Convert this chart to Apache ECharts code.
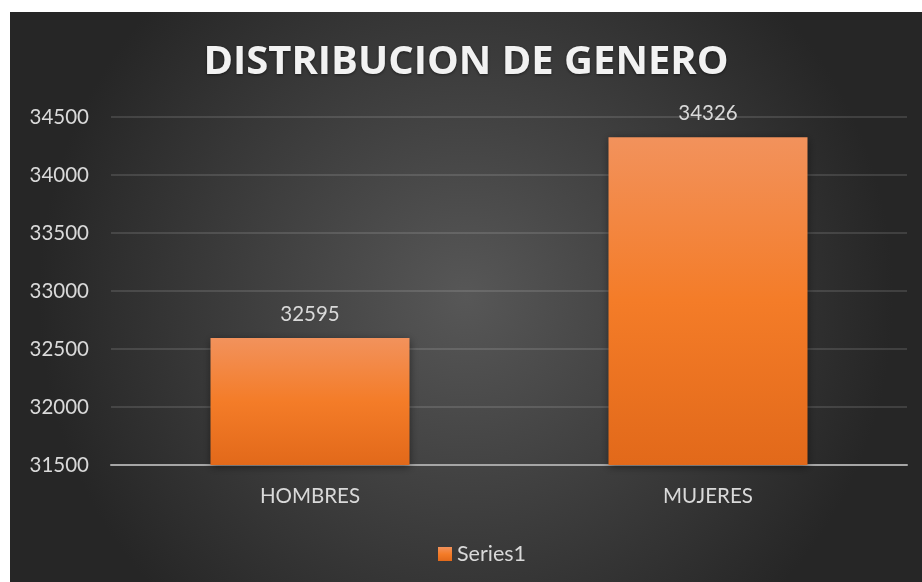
<!DOCTYPE html>
<html>
<head>
<meta charset="utf-8">
<script src="https://cdn.jsdelivr.net/npm/echarts@6/dist/echarts.min.js"></script>
<style>
  html, body { margin: 0; padding: 0; background: #ffffff; }
  #main { position: absolute; left: 10px; top: 12px; width: 912px; height: 570px; }
</style>
</head>
<body>
<div id="main"></div>
<script>
const categories = ['HOMBRES', 'MUJERES']
const values = [32595, 34326]
const seriesName = 'Series1'

const chart = echarts.init(document.querySelector('#main'))

chart.setOption({
  backgroundColor: {
    type: 'radial', x: 0.5, y: 0.5, r: 0.75,
    colorStops: [
      { offset: 0, color: '#575757' },
      { offset: 1, color: '#262626' }
    ]
  },
  title: {
    text: 'DISTRIBUCION DE GENERO',
    left: 'center',
    top: 26,
    textStyle: {
      fontFamily: 'Open Sans',
      fontWeight: 'bold',
      fontSize: 40,
      color: '#f2f2f2',
      textShadowColor: 'rgba(0,0,0,0.5)',
      textShadowBlur: 3,
      textShadowOffsetY: 1
    }
  },
  legend: {
    data: [seriesName],
    top: 526,
    left: 423,
    icon: 'rect',
    itemWidth: 14,
    itemHeight: 14,
    itemGap: 4,
    textStyle: { fontFamily: 'Lato', fontSize: 21.5, color: '#d9d9d9' }
  },
  grid: { left: 101, right: 15, top: 105, bottom: 117 },
  xAxis: {
    type: 'category',
    data: categories,
    axisTick: { show: false },
    axisLine: { lineStyle: { color: '#a6a6a6', width: 2 } },
    axisLabel: { margin: 21, fontFamily: 'Lato', fontSize: 20.5, color: '#d9d9d9' }
  },
  yAxis: {
    type: 'value',
    min: 31500,
    max: 34500,
    interval: 500,
    axisLine: { show: false },
    axisTick: { show: false },
    axisLabel: {
      margin: 22,
      fontFamily: 'Lato',
      fontSize: 20.5,
      color: '#d9d9d9',
      formatter: v => String(v)
    },
    splitLine: { lineStyle: { color: 'rgba(255,255,255,0.12)', width: 2 } }
  },
  series: [{
    name: seriesName,
    type: 'bar',
    data: values,
    barWidth: '50%',
    itemStyle: {
      color: {
        type: 'linear', x: 0, y: 0, x2: 0, y2: 1,
        colorStops: [
          { offset: 0, color: '#f2925c' },
          { offset: 0.5, color: '#f47c28' },
          { offset: 1, color: '#e2691a' }
        ]
      },
      shadowBlur: 8,
      shadowColor: 'rgba(0,0,0,0.45)',
      shadowOffsetY: 2
    },
    label: {
      show: true,
      position: 'top',
      distance: 13,
      fontFamily: 'Lato',
      fontSize: 20.5,
      color: '#d9d9d9'
    }
  }]
})
</script>
</body>
</html>
